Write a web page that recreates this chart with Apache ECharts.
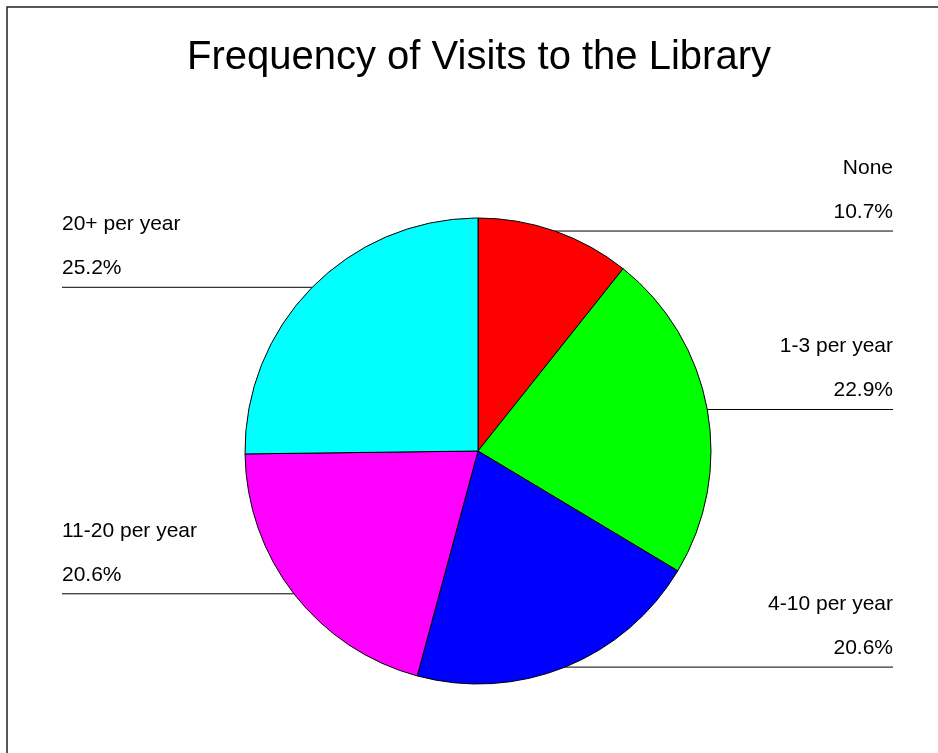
<!DOCTYPE html>
<html>
<head>
<meta charset="utf-8">
<script src="https://cdn.jsdelivr.net/npm/echarts@6/dist/echarts.min.js"></script>
<style>html,body{margin:0;padding:0;background:#fff}#c{width:938px;height:753px}</style>
</head>
<body>
<div id="c"></div>
<script>
var titleText = 'Frequency of Visits to the Library';
var categories = ['None', '1-3 per year', '4-10 per year', '11-20 per year', '20+ per year'];
var percents = [10.7, 22.9, 20.6, 20.6, 25.2];
var colors = ['#ff0000', '#00ff00', '#0000ff', '#ff00ff', '#00ffff'];

var chart = echarts.init(document.getElementById('c'), null, {renderer: 'canvas'});
var FONT = '"Liberation Sans", Arial, sans-serif';

var data = categories.map(function (c, i) {
  return {name: c, value: percents[i], itemStyle: {color: colors[i]}};
});

chart.setOption({
  animation: false,
  backgroundColor: '#fff',
  title: {
    text: titleText,
    left: 479,
    textAlign: 'center',
    top: 38,
    padding: 0,
    textStyle: {fontFamily: FONT, fontSize: 40, fontWeight: 'normal', color: '#000', lineHeight: 40}
  },
  graphic: [{
    type: 'rect',
    shape: {x: 7, y: 7, width: 1000, height: 1000},
    style: {fill: 'none', stroke: '#222', lineWidth: 1.5},
    silent: true
  }],
  series: [{
    type: 'pie',
    center: [478, 451],
    radius: 233,
    startAngle: 90,
    clockwise: true,
    avoidLabelOverlap: false,
    emphasis: {disabled: true},
    itemStyle: {borderColor: '#000', borderWidth: 1},
    label: {
      show: true,
      position: 'outside',
      formatter: function (p) { return p.name + '\n' + p.value.toFixed(1) + '%'; },
      fontFamily: FONT,
      fontSize: 21,
      lineHeight: 44,
      color: '#000'
    },
    labelLine: {show: true, length: 0, length2: 30, smooth: false, lineStyle: {color: '#000', width: 1}},
    labelLayout: function (p) {
      var pts = p.labelLinePoints;
      var e = pts[0];
      var right = pts[pts.length - 1][0] > e[0];
      var xEnd = right ? 893 : 62;
      return {
        x: xEnd,
        y: e[1] + 3,
        align: right ? 'right' : 'left',
        verticalAlign: 'bottom',
        labelLinePoints: [[e[0], e[1]], [e[0], e[1]], [xEnd, e[1]]]
      };
    },
    data: data
  }]
});
</script>
</body>
</html>
